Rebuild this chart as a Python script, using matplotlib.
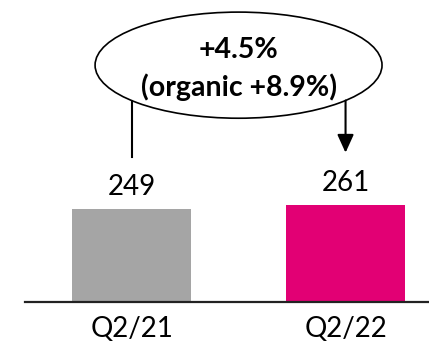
import matplotlib.pyplot as plt
import numpy as np
from matplotlib.patches import Ellipse

quarters = ["Q2/21", "Q2/22"]
values = [249, 261]
colors = ["#A5A5A5", "#E20074"]
growth = "+4.5%"
organic = "(organic +8.9%)"

plt.rcParams["font.family"] = ["Lato", "DejaVu Sans"]

fig = plt.figure(figsize=(4.29, 3.46), dpi=100)
ax = fig.add_axes([25 / 429, 44 / 346, 404 / 429, 302 / 346])

x = np.arange(len(values))
ax.bar(x, values, width=0.556, color=colors)
for xi, v in zip(x, values):
    ax.annotate(str(v), (xi, v), xytext=(0, 10), textcoords="offset points",
                ha="center", va="baseline", fontsize=20)

ax.set_xlim(-0.498, 1.39)
ax.set_ylim(0, 811)
ax.set_xticks(x, quarters, fontsize=20)
ax.tick_params(axis="x", length=0, pad=10)
ax.set_yticks([])
for side in ["top", "right", "left"]:
    ax.spines[side].set_visible(False)
ax.spines["bottom"].set_linewidth(1.6)
ax.spines["bottom"].set_color("#222222")

# growth bubble
cx, cy, w, h = 0.5, 636, 1.341, 285
ax.add_patch(Ellipse((cx, cy), w, h, fill=False, edgecolor="black", lw=1.2,
                     clip_on=False))
ax.text(cx, 655, growth, ha="center", va="baseline", fontsize=20.5,
        fontweight="bold")
ax.text(cx, 553, organic, ha="center", va="baseline", fontsize=20.5,
        fontweight="bold")

for xi, v in zip(x, values):
    dx = (xi - cx) / (w / 2)
    y0 = cy - h / 2 * np.sqrt(1 - dx ** 2)
    if xi == 0:
        ax.plot([xi, xi], [y0, v + 140], color="black", lw=1.5)
    else:
        ax.annotate("", xy=(xi, v + 140), xytext=(xi, y0),
                    arrowprops=dict(arrowstyle="-|>,head_width=0.5,head_length=1.1",
                                    color="black", lw=1.5, shrinkA=0, shrinkB=0))

fig.savefig("out.png", dpi=100)
